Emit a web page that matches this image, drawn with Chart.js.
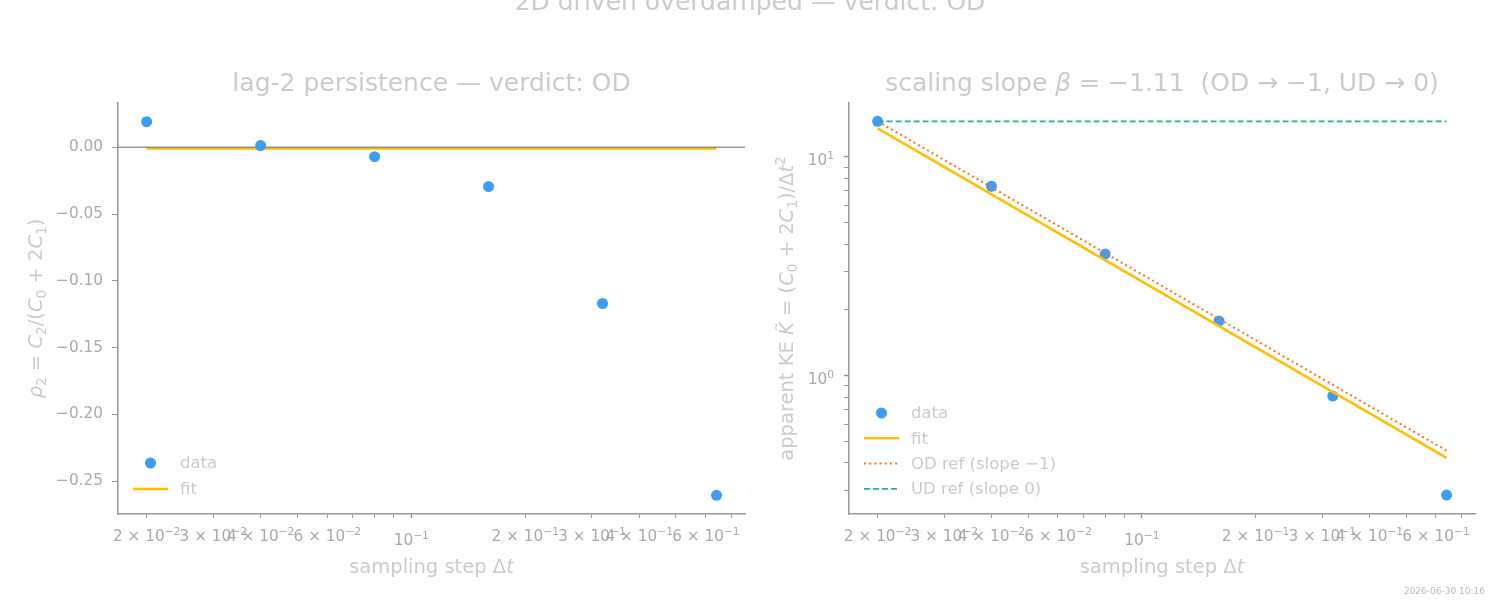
<!DOCTYPE html>
<html>
<head>
<meta charset="utf-8">
<script src="https://cdn.jsdelivr.net/npm/chart.js@4/dist/chart.umd.min.js"></script>
<style>
  html, body { margin: 0; padding: 0; background: #fff; }
  #wrap { position: relative; width: 1500px; height: 600px; }
  #wrap canvas { position: absolute; left: 0; top: 0; }
</style>
</head>
<body>
<div id="wrap">
  <canvas id="lagChart" width="1500" height="600" style="width:1500px;height:600px"></canvas>
  <canvas id="slopeChart" width="1500" height="600" style="width:1500px;height:600px"></canvas>
</div>
<script>
/* ── Data ── */
const DT = [0.02, 0.04, 0.08, 0.16, 0.32, 0.64];
const RHO2 = [0.0192, 0.0013, -0.0070, -0.0294, -0.1170, -0.2607];
const KE = [14.55, 7.35, 3.60, 1.78, 0.808, 0.285];

const FIT_DT = [0.02, 0.64];
const RHO2_FIT = [-0.0008, -0.0008];
const KE_FIT = [13.52, 0.422];
const OD_REF = [14.55, 0.455];
const UD_REF = [14.55, 14.55];

const DT_LIM = [0.0168, 0.761];
const RHO2_LIM = [-0.2747, 0.0332];
const KE_LIM = [0.2336, 17.65];

/* tick labels: text after ^ is a superscript */
const DT_TICKS = [0.02, 0.03, 0.04, 0.05, 0.06, 0.07, 0.08, 0.09, 0.1, 0.2, 0.3, 0.4, 0.5, 0.6, 0.7];
const DT_TICK_LABELS = ['2 × 10^−2', '3 × 10^−2', '4 × 10^−2', '', '6 × 10^−2', '', '', '', '10^−1',
                        '2 × 10^−1', '3 × 10^−1', '4 × 10^−1', '', '6 × 10^−1', ''];
const RHO2_TICKS = [-0.25, -0.20, -0.15, -0.10, -0.05, 0.00];
const KE_TICKS = [0.3, 0.4, 0.5, 0.6, 0.7, 0.8, 0.9, 1, 2, 3, 4, 5, 6, 7, 8, 9, 10];
const KE_TICK_LABELS = ['', '', '', '', '', '', '', '10^0', '', '', '', '', '', '', '', '', '10^1'];

/* ── Style ── */
const FONT = '"DejaVu Sans", sans-serif';
const C_DATA = '#3d9cf5';
const C_FIT = '#ffbf00';
const C_OD = '#f97316';
const C_UD = '#2bab9b';
const C_SPINE = '#999999';
const C_TICK_TXT = '#aaaaaa';
const C_TEXT = '#cccccc';
const TICK_SIZE = 15.3;

/* ── Helpers ── */
function xy(xs, ys) { return xs.map((x, i) => ({ x, y: ys[i] })); }

function powerParts(label) {
  const [base, exp] = label.split('^');
  return exp ? [[base], [exp, '^']] : [[base]];
}

/* draws mathtext-ish text: [text, flags] with i = italic, _ = subscript, ^ = superscript */
function richText(ctx, parts, x, y, size, color, angle, align) {
  const font = (it, s) => `${it ? 'italic ' : ''}${s}px ${FONT}`;
  const pieces = parts.map(([t, f = '']) => {
    const s = (f.includes('_') || f.includes('^')) ? size * 0.7 : size;
    ctx.font = font(f.includes('i'), s);
    return { t, f, s, w: ctx.measureText(t).width };
  });
  const total = pieces.reduce((a, p) => a + p.w, 0);
  ctx.save();
  ctx.translate(x, y);
  ctx.rotate(angle || 0);
  ctx.fillStyle = color;
  ctx.textAlign = 'left';
  ctx.textBaseline = 'alphabetic';
  let cx = align === 'right' ? -total : -total / 2;
  pieces.forEach(p => {
    ctx.font = font(p.f.includes('i'), p.s);
    let dy = size * 0.35;
    if (p.f.includes('_')) dy += size * 0.2;
    if (p.f.includes('^')) dy -= size * 0.4;
    ctx.fillText(p.t, cx, dy);
    cx += p.w;
  });
  ctx.restore();
}

function drawXTickLabels(chart) {
  const sx = chart.scales.x;
  DT_TICKS.forEach((v, i) => {
    const lab = DT_TICK_LABELS[i];
    if (!lab) return;
    const y = lab.startsWith('10^') ? 540 : 536;
    richText(chart.ctx, powerParts(lab), sx.getPixelForValue(v), y, TICK_SIZE, C_TICK_TXT);
  });
}

function drawLegend(chart, x0, y0, step) {
  const ctx = chart.ctx;
  let y = y0;
  chart.data.datasets.forEach(ds => {
    if (!ds.label) return;
    ctx.save();
    if (ds.showLine) {
      ctx.strokeStyle = ds.borderColor;
      ctx.lineWidth = ds.borderWidth;
      ctx.setLineDash(ds.borderDash || []);
      ctx.beginPath();
      ctx.moveTo(x0, y);
      ctx.lineTo(x0 + 35, y);
      ctx.stroke();
    } else {
      ctx.fillStyle = ds.pointBackgroundColor;
      ctx.beginPath();
      ctx.arc(x0 + 17.5, y, ds.pointRadius, 0, Math.PI * 2);
      ctx.fill();
    }
    ctx.fillStyle = C_TEXT;
    ctx.font = `16.5px ${FONT}`;
    ctx.textBaseline = 'middle';
    ctx.fillText(ds.label, x0 + 47, y + 1);
    ctx.restore();
    y += step;
  });
}

function xScale() {
  return {
    type: 'logarithmic',
    min: DT_LIM[0], max: DT_LIM[1],
    afterBuildTicks: s => { s.ticks = DT_TICKS.map(v => ({ value: v })); },
    afterFit: s => { s.height = 86; },
    border: { display: true, color: C_SPINE, width: 1.5 },
    grid: {
      drawOnChartArea: false, drawTicks: true, tickLength: 4, tickColor: C_SPINE,
      tickWidth: ctx => (ctx.tick && ctx.tick.value === 0.1 ? 1.5 : 1)
    },
    ticks: { autoSkip: false, maxRotation: 0, minRotation: 0, callback: () => '' }
  };
}

function yStyle() {
  return {
    afterFit: s => { s.width = 118; },
    border: { display: true, color: C_SPINE, width: 1.5 },
    grid: { drawOnChartArea: false, drawTicks: true, tickLength: 6, tickColor: C_SPINE, tickWidth: 1 },
  };
}

const BASE_OPTIONS = {
  responsive: false,
  animation: false,
  events: [],
  plugins: { legend: { display: false }, tooltip: { enabled: false } },
};

/* ── Left: lag-2 persistence ── */
new Chart(document.getElementById('lagChart'), {
  type: 'scatter',
  data: {
    datasets: [
      { label: 'data', data: xy(DT, RHO2), pointRadius: 5.5, pointBackgroundColor: C_DATA,
        pointBorderWidth: 0, showLine: false, order: 0 },
      { label: 'fit', data: xy(FIT_DT, RHO2_FIT), showLine: true, borderColor: C_FIT,
        borderWidth: 2.6, pointRadius: 0, order: 2 },
      { label: '', data: xy(DT_LIM, [0, 0]), showLine: true, borderColor: 'rgba(128,128,128,0.8)',
        borderWidth: 1.5, pointRadius: 0, order: 1 },
    ]
  },
  options: {
    ...BASE_OPTIONS,
    layout: { padding: { left: 0, right: 755, top: 103, bottom: 0 } },
    scales: {
      x: xScale(),
      y: {
        ...yStyle(),
        type: 'linear',
        min: RHO2_LIM[0], max: RHO2_LIM[1],
        afterBuildTicks: s => { s.ticks = RHO2_TICKS.map(v => ({ value: v })); },
        ticks: {
          padding: 9, color: C_TICK_TXT, font: { family: FONT, size: TICK_SIZE },
          callback: v => v.toFixed(2).replace('-', '−')
        }
      }
    }
  },
  plugins: [{
    id: 'lagText',
    afterDraw(chart) {
      const ctx = chart.ctx;
      const a = chart.chartArea;
      const cx = (a.left + a.right) / 2;
      drawXTickLabels(chart);
      richText(ctx, [['2D driven overdamped — verdict: OD']], 750, 1, 25, C_TEXT);
      richText(ctx, [['lag-2 persistence — verdict: OD']], cx, 82, 25, C_TEXT);
      richText(ctx, [['sampling step Δ'], ['t', 'i']], cx, 566, 19.5, C_TEXT);
      richText(ctx, [['ρ', 'i'], ['2', '_'], [' = '], ['C', 'i'], ['2', '_'], ['/('], ['C', 'i'], ['0', '_'],
                     [' + 2'], ['C', 'i'], ['1', '_'], [')']],
               35, (a.top + a.bottom) / 2, 19.5, C_TEXT, -Math.PI / 2);
      drawLegend(chart, 133, 463, 26);
    }
  }]
});

/* ── Right: scaling slope ── */
new Chart(document.getElementById('slopeChart'), {
  type: 'scatter',
  data: {
    datasets: [
      { label: 'data', data: xy(DT, KE), pointRadius: 5.5, pointBackgroundColor: C_DATA,
        pointBorderWidth: 0, showLine: false, order: 3 },
      { label: 'fit', data: xy(FIT_DT, KE_FIT), showLine: true, borderColor: C_FIT,
        borderWidth: 2.6, pointRadius: 0, order: 2 },
      { label: 'OD ref (slope −1)', data: xy(FIT_DT, OD_REF), showLine: true, borderColor: C_OD,
        borderWidth: 2, borderDash: [2, 3.2], pointRadius: 0, order: 1 },
      { label: 'UD ref (slope 0)', data: xy(FIT_DT, UD_REF), showLine: true, borderColor: C_UD,
        borderWidth: 1.6, borderDash: [6, 3], pointRadius: 0, order: 0 },
    ]
  },
  options: {
    ...BASE_OPTIONS,
    layout: { padding: { left: 731, right: 25, top: 103, bottom: 0 } },
    scales: {
      x: xScale(),
      y: {
        ...yStyle(),
        type: 'logarithmic',
        min: KE_LIM[0], max: KE_LIM[1],
        afterBuildTicks: s => { s.ticks = KE_TICKS.map(v => ({ value: v })); },
        grid: {
          drawOnChartArea: false, drawTicks: true, tickLength: 5, tickColor: C_SPINE,
          tickWidth: ctx => (ctx.tick && KE_TICK_LABELS[ctx.index] ? 1.5 : 1)
        },
        ticks: { autoSkip: false, callback: () => '' }
      }
    }
  },
  plugins: [{
    id: 'slopeText',
    afterDraw(chart) {
      const ctx = chart.ctx;
      const a = chart.chartArea;
      const cx = (a.left + a.right) / 2;
      const sy = chart.scales.y;
      drawXTickLabels(chart);
      KE_TICKS.forEach((v, i) => {
        if (KE_TICK_LABELS[i]) {
          richText(ctx, powerParts(KE_TICK_LABELS[i]), 834, sy.getPixelForValue(v) + 3,
                   TICK_SIZE, C_TICK_TXT, 0, 'right');
        }
      });
      richText(ctx, [['scaling slope '], ['β', 'i'], [' = −1.11  (OD → −1, UD → 0)']], cx, 82, 25, C_TEXT);
      richText(ctx, [['sampling step Δ'], ['t', 'i']], cx, 566, 19.5, C_TEXT);
      richText(ctx, [['apparent KE '], ['K̃', 'i'], [' = ('], ['C', 'i'], ['0', '_'], [' + 2'], ['C', 'i'],
                     ['1', '_'], [')/Δ'], ['t', 'i'], ['2', '^']],
               786, (a.top + a.bottom) / 2, 19.5, C_TEXT, -Math.PI / 2);
      drawLegend(chart, 864, 413, 25.3);
      ctx.save();
      ctx.font = `9px ${FONT}`;
      ctx.fillStyle = '#bbbbbb';
      ctx.textAlign = 'right';
      ctx.fillText('2026-06-30 10:16', 1485, 594);
      ctx.restore();
    }
  }]
});
</script>
</body>
</html>
